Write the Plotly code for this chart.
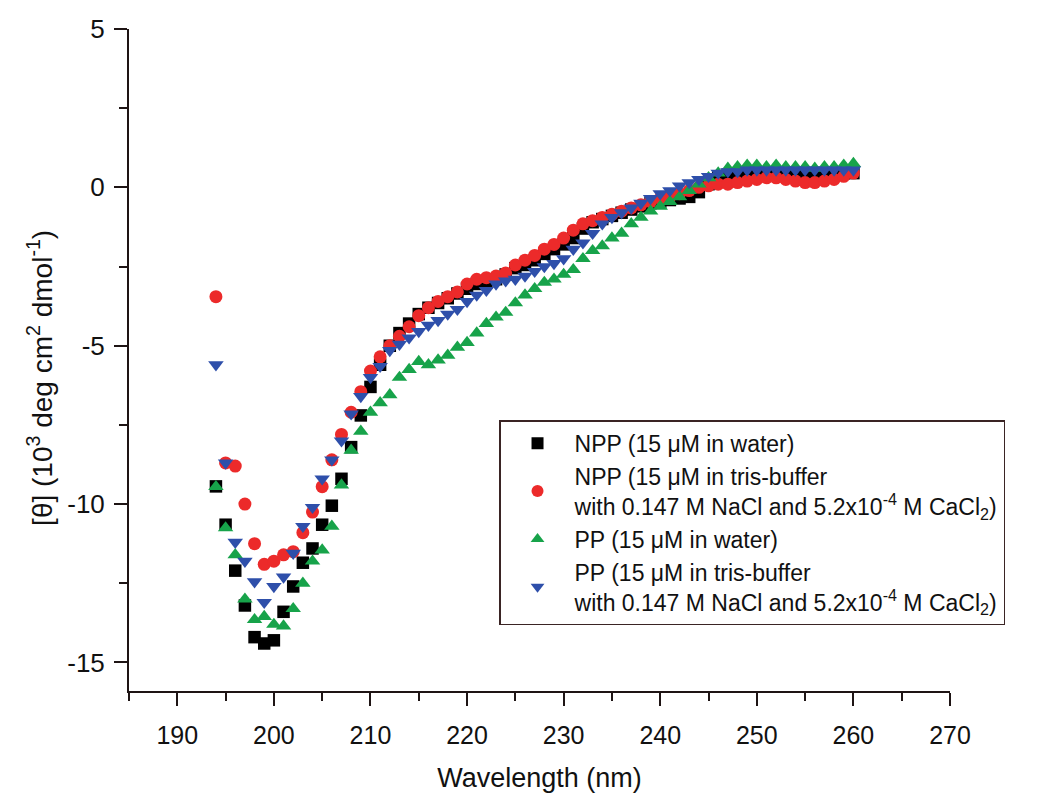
import plotly.graph_objects as go

wavelength = list(range(194, 261))

npp_water = [
    -9.44, -10.65, -12.1, -13.2, -14.2, -14.4, -14.3, -13.4, -12.6, -11.85,
    -11.4, -10.65, -10.05, -9.2, -8.2, -7.2, -6.3, -5.6, -5.0, -4.6,
    -4.3, -4.0, -3.8, -3.65, -3.5, -3.35, -3.2, -3.05, -3.0, -2.9,
    -2.75, -2.55, -2.45, -2.3, -2.1, -1.95, -1.8, -1.6, -1.3, -1.1,
    -1.0, -0.9, -0.8, -0.7, -0.6, -0.5, -0.45, -0.4, -0.35, -0.3,
    -0.15, 0.1, 0.3, 0.4, 0.45, 0.45, 0.45, 0.45, 0.45, 0.45,
    0.45, 0.45, 0.45, 0.45, 0.45, 0.45, 0.45,
]

npp_tris = [
    -3.45, -8.7, -8.8, -10.0, -11.25, -11.9, -11.8, -11.6, -11.5, -10.9,
    -10.25, -9.45, -8.6, -7.8, -7.1, -6.45, -5.8, -5.35, -5.0, -4.7,
    -4.4, -4.05, -3.8, -3.6, -3.45, -3.3, -3.05, -2.9, -2.85, -2.8,
    -2.7, -2.45, -2.3, -2.15, -1.95, -1.8, -1.6, -1.35, -1.15, -1.05,
    -0.95, -0.85, -0.75, -0.65, -0.55, -0.45, -0.35, -0.3, -0.2, -0.1,
    0.0, 0.05, 0.1, 0.1, 0.15, 0.2, 0.25, 0.3, 0.3, 0.25,
    0.2, 0.15, 0.15, 0.2, 0.25, 0.35, 0.45,
]

pp_water = [
    -9.45, -10.75, -11.6, -13.0, -13.65, -13.55, -13.8, -13.85, -13.3, -12.5,
    -11.8, -11.45, -10.7, -9.4, -8.3, -7.7, -7.1, -6.8, -6.55, -6.0,
    -5.75, -5.5, -5.6, -5.45, -5.3, -5.05, -4.9, -4.6, -4.3, -4.1,
    -3.95, -3.65, -3.4, -3.2, -3.0, -2.9, -2.75, -2.6, -2.25, -2.0,
    -1.85, -1.6, -1.45, -1.15, -0.95, -0.75, -0.6, -0.45, -0.3, -0.1,
    0.1, 0.3, 0.45, 0.6, 0.65, 0.7, 0.7, 0.65, 0.7, 0.65,
    0.65, 0.65, 0.6, 0.65, 0.65, 0.7, 0.75,
]

pp_tris = [
    -5.6, -8.7, -11.2, -11.8, -12.45, -13.1, -12.6, -12.3, -11.55, -10.7,
    -10.1, -9.2, -8.6, -8.0, -7.15, -6.6, -6.0, -5.65, -5.15, -4.95,
    -4.75, -4.55, -4.35, -4.2, -4.0, -3.85, -3.6, -3.4, -3.25, -3.05,
    -2.95, -2.9, -2.8, -2.65, -2.5, -2.4, -2.25, -1.95, -1.75, -1.45,
    -1.15, -0.95, -0.8, -0.65, -0.5, -0.35, -0.2, -0.1, 0.05, 0.15,
    0.25, 0.35, 0.45, 0.5, 0.5, 0.55, 0.55, 0.55, 0.55, 0.55,
    0.55, 0.55, 0.55, 0.55, 0.55, 0.55, 0.55,
]

series_names = [
    "NPP (15 \u03bcM in water)",
    "NPP (15 \u03bcM in tris-buffer<br>with 0.147 M NaCl and 5.2x10<sup>-4</sup> M CaCl<sub>2</sub>)",
    "PP (15 \u03bcM in water)",
    "PP (15 \u03bcM in tris-buffer<br>with 0.147 M NaCl and 5.2x10<sup>-4</sup> M CaCl<sub>2</sub>)",
]
series_values = [npp_water, npp_tris, pp_water, pp_tris]
series_colors = ["#000000", "#EC2A2A", "#17A34A", "#2E4FAA"]
series_symbols = ["square", "circle", "triangle-up", "triangle-down"]
series_sizes = [12.5, 13, 13.5, 13.5]

x_ticks = list(range(190, 271, 10))
y_ticks = [-15, -10, -5, 0, 5]

y_title = "[\u03b8] (10<sup>3</sup> deg cm<sup>2</sup> dmol<sup>-1</sup>)"
x_title = "Wavelength (nm)"

FONT = "Liberation Sans, Arial, sans-serif"
AXIS_COLOR = "#1e1414"
TEXT_COLOR = "#111111"

fig = go.Figure()
for name, vals, col, sym, sz in zip(series_names, series_values, series_colors,
                                     series_symbols, series_sizes):
    fig.add_trace(go.Scatter(
        x=wavelength, y=vals, mode="markers", name=name,
        marker=dict(symbol=sym, color=col, size=sz, line=dict(width=0)),
    ))

fig.update_layout(
    width=1043, height=796,
    margin=dict(l=121, r=101, t=21, b=113, autoexpand=False),
    paper_bgcolor="white", plot_bgcolor="white",
    font=dict(family=FONT, color=TEXT_COLOR),
    showlegend=True,
    legend=dict(
        x=0.4507, y=0.409, xanchor="left", yanchor="top",
        bgcolor="rgba(255,255,255,0)",
        bordercolor="#3a2424", borderwidth=1.5,
        font=dict(family=FONT, size=23, color=TEXT_COLOR),
        tracegroupgap=0, itemsizing="constant", itemwidth=64,
    ),
    annotations=[dict(
        text=y_title, textangle=-90, showarrow=False,
        xref="paper", yref="paper", x=-0.1084, y=0.473,
        xanchor="center", yanchor="middle",
        font=dict(family=FONT, size=28, color=TEXT_COLOR),
    )],
)

fig.update_xaxes(
    range=[185, 270], tickvals=x_ticks, ticktext=[str(v) for v in x_ticks],
    showgrid=False, zeroline=False, automargin=False,
    showline=True, linecolor=AXIS_COLOR, linewidth=2,
    ticks="outside", ticklen=13, tickwidth=2, tickcolor=AXIS_COLOR,
    minor=dict(dtick=5, tick0=185, ticks="outside", ticklen=8, tickwidth=2,
               tickcolor=AXIS_COLOR, showgrid=False),
    tickfont=dict(family=FONT, size=25, color=TEXT_COLOR),
    ticklabelstandoff=8,
    title=dict(text=x_title, font=dict(family=FONT, size=27, color=TEXT_COLOR),
               standoff=20),
)
fig.update_yaxes(
    range=[-15.9, 5], tickvals=y_ticks, ticktext=[str(v) for v in y_ticks],
    showgrid=False, zeroline=False, automargin=False,
    showline=True, linecolor=AXIS_COLOR, linewidth=2,
    ticks="outside", ticklen=13, tickwidth=2, tickcolor=AXIS_COLOR,
    minor=dict(dtick=2.5, tick0=0, ticks="outside", ticklen=8, tickwidth=2,
               tickcolor=AXIS_COLOR, showgrid=False),
    tickfont=dict(family=FONT, size=26, color=TEXT_COLOR),
    ticklabelstandoff=4,
)

fig.write_html("out.html")
